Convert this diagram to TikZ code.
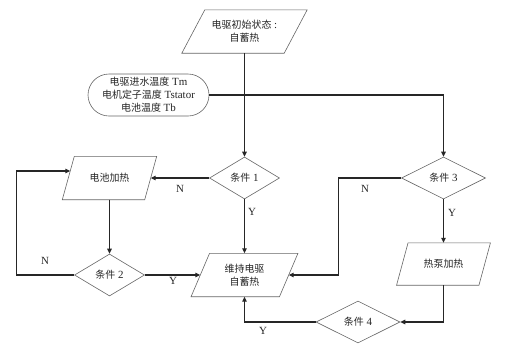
\documentclass[tikz,border=0pt]{standalone}
\usepackage{fontspec}
\setmainfont{Liberation Serif}[Scale=1.1]
\newfontfamily\cjk{Noto Sans CJK SC}
\usetikzlibrary{shapes.geometric,shapes.misc,arrows.meta,calc}
\newcommand\pgram[6]{%
  \node[pgtext, minimum width=#3bp, minimum height=#4bp] (#1) at (#2) {#6};
  \draw[shp] ($(#1.north west)+(#5,0)$) -- ($(#1.north east)+(#5,0)$) -- ($(#1.south east)-(#5,0)$) -- ($(#1.south west)-(#5,0)$) -- cycle;}
\begin{document}
\begin{tikzpicture}[x=1bp,y=-1bp,
  shp/.style={draw=black!60, line width=0.6bp},
  txt/.style={font=\fontsize{10}{13}\selectfont, text=black!85},
  pgtext/.style={txt, inner sep=0, align=center},
  cond/.style={diamond, shp, txt, inner sep=0, align=center, minimum height=42bp},
  conn/.style={line width=1.3bp, draw=black!85},
  arr/.style={conn, -{Triangle[length=5bp,width=4.5bp]}},
  lab/.style={font=\fontsize{10}{12}\selectfont, text=black!85, inner sep=0}]
\useasboundingbox[fill=white] (0,0) rectangle (524,351);

\pgram{start}{244.5,31.5}{102}{43}{11.5}{{\cjk 电驱初始状态} :\\{\cjk 自蓄热}}
\node[rounded rectangle, shp, txt, align=center, inner sep=0, minimum width=121bp, minimum height=42bp] (inp) at (148.5,95)
  {{\cjk 电驱进水温度} Tm\\{\cjk 电机定子温度} Tstator\\{\cjk 电池温度} Tb};

\node[cond, minimum width=70bp] (d1) at (244.5,178) {{\cjk 条件} 1};
\node[cond, minimum width=84bp] (d3) at (443.5,178) {{\cjk 条件} 3};
\pgram{bat}{109.5,178}{82}{43}{6}{{\cjk 电池加热}}
\node[cond, minimum width=70bp] (d2) at (109.5,275) {{\cjk 条件} 2};
\pgram{main}{244.5,275}{88}{43}{9.25}{{\cjk 维持电驱}\\{\cjk 自蓄热}}
\pgram{hp}{443.5,264}{82}{42}{5.75}{{\cjk 热泵加热}}
\node[cond, minimum width=84bp] (d4) at (358,322) {{\cjk 条件} 4};

\draw[arr] (start.south) -- (d1.north);
\draw[arr] (inp.east) -| (d3.north);
\draw[arr] (d1.west) -- (bat.east);
\draw[arr] (d1.south) -- (main.north);
\draw[arr] (bat.south) -- (d2.north);
\draw[arr] (d2.east) -- (main.west);
\draw[arr] (d2.west) -- ++(-57.5,0) |- ($(bat.west)+(2,-7)$);
\draw[arr] (d3.west) -- ++(-63,0) |- (main.east);
\draw[arr] (d3.south) -- (hp.north);
\draw[arr] (hp.south) |- (d4.east);
\draw[arr] (d4.west) -| (main.south);

\node[lab] (n1) at (180,189) {N};
\node[lab] (y1) at (252,212) {Y};
\node[lab] (n2) at (45,261) {N};
\node[lab] (y2) at (173,281) {Y};
\node[lab] (n3) at (365,189) {N};
\node[lab] (y3) at (452,213) {Y};
\node[lab] (y4) at (263,331) {Y};
\end{tikzpicture}
\end{document}
